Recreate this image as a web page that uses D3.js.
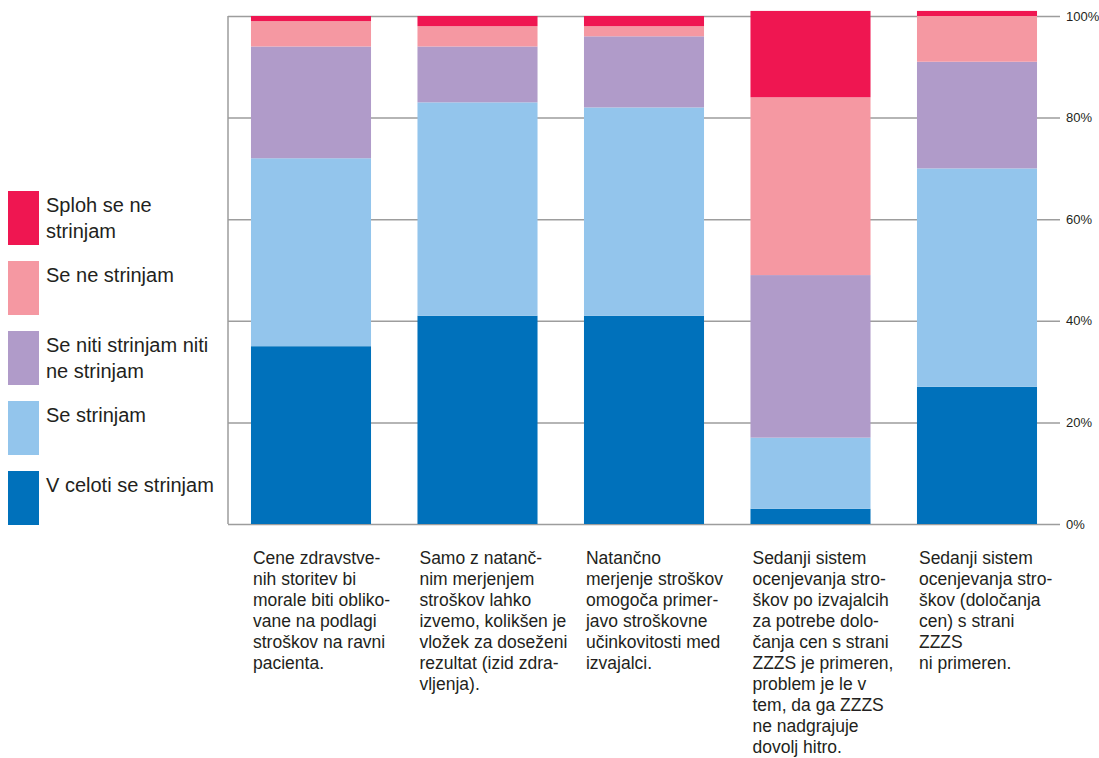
<!DOCTYPE html>
<html>
<head>
<meta charset="utf-8">
<script src="https://cdn.jsdelivr.net/npm/d3@7/dist/d3.min.js"></script>
<style>
  body { margin: 0; background: #fff; }
  text { font-family: "Liberation Sans", Arial, Helvetica, sans-serif; fill: #231f20; }
</style>
</head>
<body>
<script>
// categories (pre-broken label lines)
var categories = [
  ["Cene zdravstve-", "nih storitev bi", "morale biti obliko-", "vane na podlagi", "stroškov na ravni", "pacienta."],
  ["Samo z natanč-", "nim merjenjem", "stroškov lahko", "izvemo, kolikšen je", "vložek za doseženi", "rezultat (izid zdra-", "vljenja)."],
  ["Natančno", "merjenje stroškov", "omogoča primer-", "javo stroškovne", "učinkovitosti med", "izvajalci."],
  ["Sedanji sistem", "ocenjevanja stro-", "škov po izvajalcih", "za potrebe dolo-", "čanja cen s strani", "ZZZS je primeren,", "problem je le v", "tem, da ga ZZZS", "ne nadgrajuje", "dovolj hitro."],
  ["Sedanji sistem", "ocenjevanja stro-", "škov (določanja", "cen) s strani", "ZZZS", "ni primeren."]
];

// series values (%), bottom to top
var vCeloti    = [35, 41, 41, 3, 27];
var seStrinjam = [37, 42, 41, 14, 43];
var seNiti     = [22, 11, 14, 32, 21];
var seNe       = [5, 4, 2, 35, 9];
var sploh      = [1, 2, 2, 17, 1];

var seriesNames = ["V celoti se strinjam", "Se strinjam", "Se niti strinjam niti ne strinjam", "Se ne strinjam", "Sploh se ne strinjam"];
var seriesValues = [vCeloti, seStrinjam, seNiti, seNe, sploh];
var colors = ["#0071bb", "#93c5ec", "#b09bc9", "#f598a2", "#ef1651"];

// legend lines, top to bottom
var legendLines = [
  ["Sploh se ne", "strinjam"],
  ["Se ne strinjam"],
  ["Se niti strinjam niti", "ne strinjam"],
  ["Se strinjam"],
  ["V celoti se strinjam"]
];

var tickValues = [0, 20, 40, 60, 80, 100];

var w = 1099, h = 758;
var svg = d3.select("body").append("svg").attr("width", w).attr("height", h);

var rows = categories.map(function(c, i) {
  var r = { idx: i };
  seriesNames.forEach(function(s, k) { r[s] = seriesValues[k][i]; });
  return r;
});

var xScale = d3.scaleBand()
  .domain(d3.range(categories.length))
  .range([228, 1060])
  .paddingInner(0.279)
  .paddingOuter(0.138);

var yScale = d3.scaleLinear().domain([0, 100]).range([524, 16]);

// grid + right labels
var yAxis = d3.axisRight(yScale)
  .tickValues(tickValues)
  .tickSize(832)
  .tickPadding(6)
  .tickFormat(function(d) { return d + "%"; });

var gAxis = svg.append("g")
  .attr("transform", "translate(228,0)")
  .call(yAxis);
gAxis.select(".domain").remove();
gAxis.selectAll("line").attr("stroke", "#9d9d9d").attr("stroke-width", 1.5);
gAxis.selectAll("text")
  .style("font-family", "'Liberation Sans', Arial, sans-serif")
  .style("font-size", "13px")
  .attr("fill", "#333");

// left axis line
svg.append("line")
  .attr("x1", 228).attr("x2", 228)
  .attr("y1", yScale(100)).attr("y2", yScale(0))
  .attr("stroke", "#9d9d9d").attr("stroke-width", 1.5);

// stacked bars
var stack = d3.stack().keys(seriesNames);
var layers = stack(rows);

svg.selectAll("g.layer")
  .data(layers)
  .enter().append("g")
  .attr("class", "layer")
  .attr("fill", function(d, i) { return colors[i]; })
  .selectAll("rect")
  .data(function(d) { return d; })
  .enter().append("rect")
  .attr("x", function(d) { return xScale(d.data.idx); })
  .attr("width", xScale.bandwidth())
  .attr("y", function(d) { return yScale(d[1]); })
  .attr("height", function(d) { return yScale(d[0]) - yScale(d[1]); });

// category labels
svg.selectAll("text.cat")
  .data(categories)
  .enter().append("text")
  .attr("class", "cat")
  .attr("x", function(d, i) { return xScale(i) + 2; })
  .attr("y", 564)
  .style("font-size", "17.5px")
  .selectAll("tspan")
  .data(function(d) { return d; })
  .enter().append("tspan")
  .attr("x", function() { return d3.select(this.parentNode).attr("x"); })
  .attr("dy", function(d, i) { return i === 0 ? 0 : 21; })
  .text(function(d) { return d; });

// legend
var legend = svg.append("g");
var legendColors = colors.slice().reverse();
legendLines.forEach(function(lines, i) {
  var y0 = 191 + i * 70;
  legend.append("rect")
    .attr("x", 8).attr("y", y0)
    .attr("width", 31).attr("height", 54)
    .attr("fill", legendColors[i]);
  var t = legend.append("text")
    .attr("x", 46).attr("y", y0 + 21)
    .style("font-size", "20px");
  lines.forEach(function(l, j) {
    t.append("tspan").attr("x", 46).attr("dy", j === 0 ? 0 : 26).text(l);
  });
});
</script>
</body>
</html>
